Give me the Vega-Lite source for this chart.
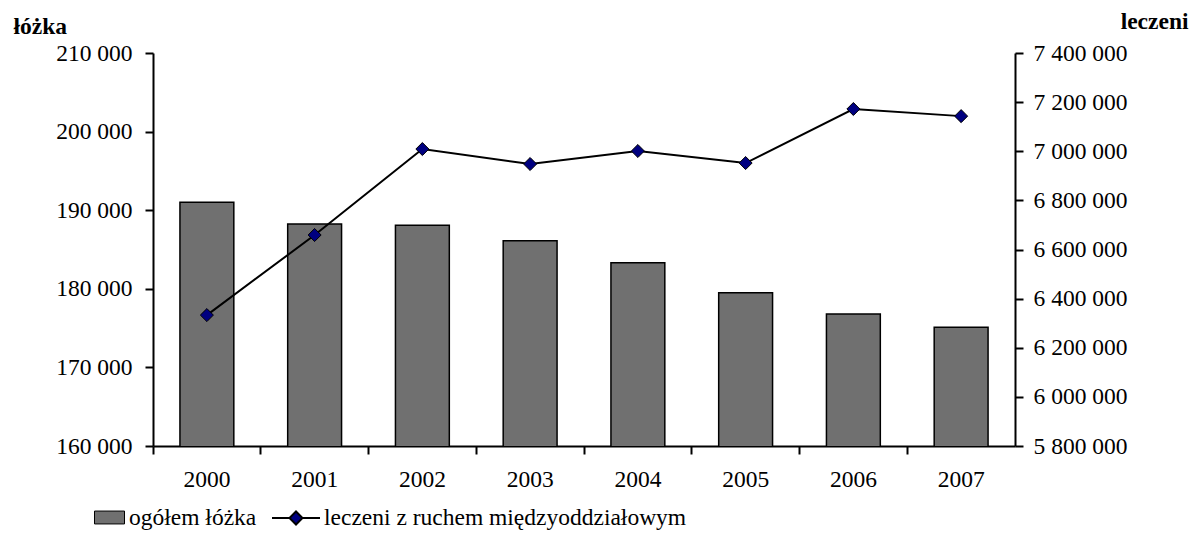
{
  "$schema": "https://vega.github.io/schema/vega-lite/v6.json",
  "autosize": "none",
  "width": 862,
  "height": 393,
  "padding": {"left": 153, "top": 53, "right": 176, "bottom": 108},
  "background": "white",
  "config": {
    "font": "Liberation Serif",
    "view": {"stroke": null},
    "locale": {"number": {"decimal": ",", "thousands": " ", "grouping": [3], "currency": ["", ""]}},
    "axis": {
      "labelFont": "Liberation Serif", "labelFontSize": 23.5, "labelColor": "black",
      "domainColor": "black", "domainWidth": 2, "tickColor": "black", "tickWidth": 2, "tickSize": 8,
      "grid": false, "titleFont": "Liberation Serif", "titleFontSize": 23.5, "titleColor": "black", "titleFontWeight": "bold"
    },
    "legend": {"labelFont": "Liberation Serif", "labelFontSize": 23.5, "labelColor": "black", "labelLimit": 600}
  },
  "data": {"values": [
    {"rok": "2000", "lozka": 191000, "leczeni": 6333000},
    {"rok": "2001", "lozka": 188250, "leczeni": 6659000},
    {"rok": "2002", "lozka": 188100, "leczeni": 7009000},
    {"rok": "2003", "lozka": 186100, "leczeni": 6948000},
    {"rok": "2004", "lozka": 183300, "leczeni": 7001000},
    {"rok": "2005", "lozka": 179500, "leczeni": 6952000},
    {"rok": "2006", "lozka": 176800, "leczeni": 7172000},
    {"rok": "2007", "lozka": 175100, "leczeni": 7143000}
  ]},
  "encoding": {
    "x": {
      "field": "rok", "type": "nominal", "sort": null,
      "scale": {"paddingInner": 0, "paddingOuter": 0},
      "axis": {
        "title": null, "labelAngle": 0, "labelPadding": 13, "bandPosition": 0,
        "encode": {"ticks": {"update": {"y": {"value": -8}}}}
      }
    }
  },
  "layer": [
    {
      "mark": {"type": "bar", "stroke": "black", "strokeWidth": 1.5, "width": {"band": 0.5}, "clip": true},
      "encoding": {
        "y": {
          "field": "lozka", "type": "quantitative",
          "scale": {"domain": [160000, 210000], "zero": false, "nice": false},
          "axis": {
            "title": "łóżka", "orient": "left", "values": [160000, 170000, 180000, 190000, 200000, 210000],
            "format": ",d", "labelPadding": 13,
            "titleAngle": 0, "titleAlign": "left", "titleBaseline": "alphabetic", "titleX": -140, "titleY": -20,
            "encode": {"ticks": {"update": {"x": {"value": 8}}}}
          }
        },
        "fill": {
          "datum": "ogółem łóżka",
          "scale": {"range": ["#707070"]},
          "legend": {
            "title": null, "orient": "none", "legendX": -59, "legendY": 449,
            "symbolType": "M-1,-0.43H1V0.43H-1Z", "symbolSize": 900,
            "symbolStrokeColor": "black", "symbolStrokeWidth": 1, "labelOffset": 4, "padding": 0
          }
        }
      }
    },
    {
      "mark": {
        "type": "line", "strokeWidth": 2,
        "point": {"shape": "diamond", "filled": true, "fill": "#000080", "stroke": "black", "strokeWidth": 1, "size": 170}
      },
      "encoding": {
        "y": {
          "field": "leczeni", "type": "quantitative",
          "scale": {"domain": [5800000, 7400000], "zero": false, "nice": false},
          "axis": {
            "title": "leczeni", "orient": "right",
            "values": [5800000, 6000000, 6200000, 6400000, 6600000, 6800000, 7000000, 7200000, 7400000],
            "format": ",d", "labelPadding": 10,
            "titleAngle": 0, "titleAlign": "right", "titleBaseline": "alphabetic", "titleX": 173, "titleY": -25,
            "encode": {"ticks": {"update": {"x": {"value": -8}}}}
          }
        },
        "stroke": {
          "datum": "leczeni z ruchem międzyoddziałowym",
          "scale": {"range": ["black"]},
          "legend": {
            "title": null, "orient": "none", "legendX": 118, "legendY": 440,
            "symbolType": "M-1,0H-0.27L0,-0.27L0.27,0L0,0.27L-0.27,0ZM0.27,0H1",
            "symbolSize": 2304, "symbolStrokeWidth": 2, "symbolFillColor": "#000080",
            "labelOffset": 3, "padding": 0,
            "encode": {"symbols": {"update": {"fill": {"value": "#000080"}, "stroke": {"value": "black"}}}}
          }
        }
      }
    }
  ],
  "resolve": {"scale": {"y": "independent", "fill": "independent", "stroke": "independent"}}
}
